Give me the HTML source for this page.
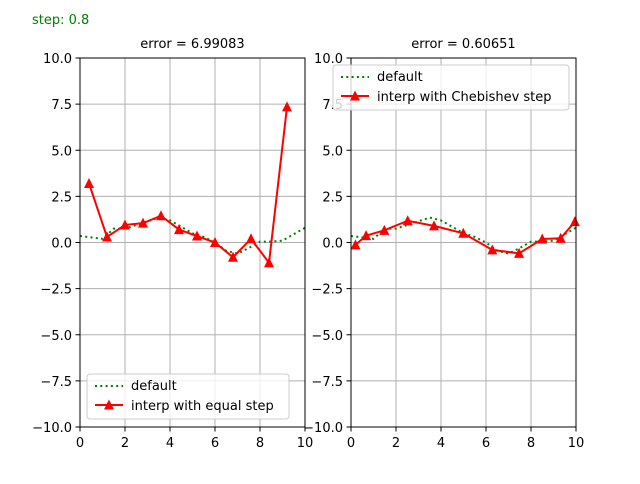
<!DOCTYPE html>
<html><head><meta charset="utf-8"><style>
body{margin:0;background:#fff;font-family:"DejaVu Sans","Liberation Sans",sans-serif}
svg text{font-family:"DejaVu Sans","Liberation Sans",sans-serif}
</style></head><body>
<svg id="c" width="640" height="480" xmlns="http://www.w3.org/2000/svg">
<text x="32" y="24" font-size="13" fill="green">step: 0.8</text>
</svg>
<script>
const defX=[0,0.5,1,1.5,2,2.5,3,3.5,4,4.5,5,5.5,6,6.5,7,7.5,8,8.5,9,9.5,10];
const defY=[0.35,0.28,0.2,0.75,0.75,0.95,1.15,1.35,1.2,0.85,0.5,0.3,0.0,-0.45,-0.6,-0.3,0.05,0.05,0.1,0.45,0.8];
const leftX=[0.4,1.2,2.0,2.8,3.6,4.4,5.2,6.0,6.8,7.6,8.4,9.2];
const leftY=[3.2,0.3,0.95,1.05,1.45,0.7,0.35,0.0,-0.8,0.2,-1.1,7.35];
const rightX=[0.2,0.67,1.48,2.52,3.69,4.99,6.28,7.47,8.5,9.32,9.95];
const rightY=[-0.13,0.37,0.66,1.18,0.9,0.5,-0.4,-0.59,0.19,0.23,1.13];
const xTicks=[0,2,4,6,8,10];
const yTicks=[10,7.5,5,2.5,0,-2.5,-5,-7.5,-10];
const titles=["error = 6.99083","error = 0.60651"];
const NS="http://www.w3.org/2000/svg";
const svg=document.getElementById('c');
function mk(t,a,p){const e=document.createElementNS(NS,t);for(const k in a)e.setAttribute(k,a[k]);(p||svg).appendChild(e);return e;}
function tri(x,y,p){return mk('polygon',{points:`${x},${y-5.5} ${x-5},${y+4.5} ${x+5},${y+4.5}`,fill:'red'},p);}
function panel(x0,idx,rx,ry,label,legTop){
  const w=225,top=58,bot=427;
  const sx=v=>x0+v/10*w, sy=v=>top+(10-v)/20*(bot-top);
  const g=mk('g',{});
  
  
  xTicks.forEach(t=>{const l=mk('line',{x1:sx(t),x2:sx(t),y1:top,y2:bot,stroke:'#b0b0b0','stroke-width':1},g);
    
    mk('line',{x1:sx(t),x2:sx(t),y1:bot,y2:bot+4.5,stroke:'#000','stroke-width':1},g);
    const tx=mk('text',{x:sx(t),y:bot+20,'font-size':13,'text-anchor':'middle'},g);tx.textContent=t;
    });
  yTicks.forEach(t=>{const l=mk('line',{x1:x0,x2:x0+w,y1:sy(t),y2:sy(t),stroke:'#b0b0b0','stroke-width':1},g);
    
    mk('line',{x1:x0-4.5,x2:x0,y1:sy(t),y2:sy(t),stroke:'#000','stroke-width':1},g);
    const tx=mk('text',{x:x0-8,y:sy(t)+5,'font-size':13,'text-anchor':'end'},g);tx.textContent=(t<0?'\u2212':'')+Math.abs(t).toFixed(1);
    });
  const cp=mk('clipPath',{id:'cp'+idx},g);mk('rect',{x:x0,y:top,width:w,height:bot-top},cp);
  const d=mk('polyline',{points:defX.map((v,i)=>sx(v)+','+sy(defY[i])).join(' '),fill:'none',stroke:'green','stroke-width':2,'stroke-dasharray':'2,3.3','clip-path':`url(#cp${idx})`},g);
  
  const r=mk('polyline',{points:rx.map((v,i)=>sx(v)+','+sy(ry[i])).join(' '),fill:'none',stroke:'red','stroke-width':2,'clip-path':`url(#cp${idx})`},g);
  
  rx.forEach((v,i)=>{const m=tri(sx(v),sy(ry[i]),g);
    });
  mk('rect',{x:x0,y:top,width:w,height:bot-top,fill:'none',stroke:'#000','stroke-width':1},g);
  const ti=mk('text',{x:x0+w/2,y:top-10,'font-size':13,'text-anchor':'middle'},g);ti.textContent=titles[idx];
  
  const lw=idx?236:202, lx=idx?333:87;
  const lg=mk('g',{},g);
  mk('rect',{x:lx,y:legTop,width:lw,height:45,rx:3,fill:'#fff','fill-opacity':0.8,stroke:'#ccc'},lg);
  mk('line',{x1:lx+8,x2:lx+36,y1:legTop+12,y2:legTop+12,stroke:'green','stroke-width':2,'stroke-dasharray':'2,3.3'},lg);
  let t1=mk('text',{x:lx+44,y:legTop+16,'font-size':13},lg);t1.textContent='default';
  mk('line',{x1:lx+8,x2:lx+36,y1:legTop+31,y2:legTop+31,stroke:'red','stroke-width':2},lg);
  tri(lx+22,legTop+31,lg);
  let t2=mk('text',{x:lx+44,y:legTop+36,'font-size':13},lg);t2.textContent=label;
}
panel(80,0,leftX,leftY,'interp with equal step',374);
panel(351,1,rightX,rightY,'interp with Chebishev step',65);
</script>
</body></html>
